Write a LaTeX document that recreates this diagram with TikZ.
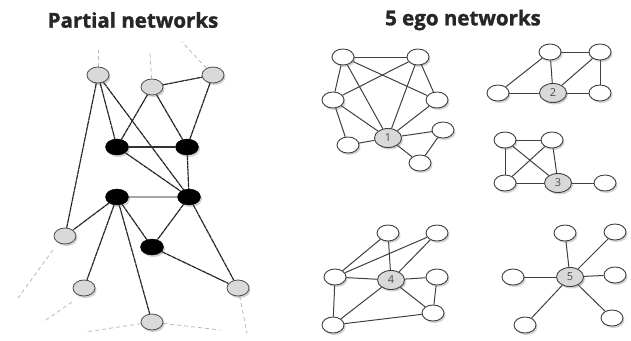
\documentclass[tikz,border=0pt]{standalone}
\usepackage{fontspec}
\setsansfont{Open Sans}
\newfontfamily\titlefont{Open Sans}[BoldFeatures={FakeBold=1.5}]
\usetikzlibrary{shadows,backgrounds,shapes.geometric}
\begin{document}
\begin{tikzpicture}[x=1pt,y=-1pt,
  shad/.style={drop shadow={shadow xshift=1.5pt,shadow yshift=-2pt,opacity=0.3,fill=black!60}},
  gnode/.style={ellipse,draw=black!70,line width=0.8pt,fill=gray!30,minimum width=22pt,minimum height=16pt,inner sep=0pt,shad},
  bnode/.style={ellipse,draw=black,fill=black,minimum width=23pt,minimum height=16pt,inner sep=0pt,shad},
  wnode/.style={ellipse,draw=black!75,line width=0.9pt,fill=white,minimum width=22pt,minimum height=16pt,inner sep=0pt,shad},
  cnode/.style={ellipse,draw=black!75,line width=0.9pt,fill=gray!30,minimum width=27pt,minimum height=19pt,inner sep=0pt,font=\sffamily\fontsize{11}{11}\selectfont,text=black!70,shad},
  pedge/.style={draw=black!85,line width=1.2pt,dash pattern=on 5pt off 0.5pt},
  oedge/.style={draw=gray!55,line width=0.8pt,dash pattern=on 4pt off 3pt},
  eedge/.style={draw=black!75,line width=1pt},
  title/.style={font=\titlefont\bfseries\fontsize{20.5}{20.5}\selectfont,text=black!85}
]
\useasboundingbox (0,0) rectangle (631,340);
% titles
\node[title] (t1) at (133,20) {Partial networks};
\node[title] (t2) at (463,20) {5 ego networks};

% ---- partial network ----
\node[gnode] (g1) at (98,75) {};
\node[gnode] (g2) at (152,87) {};
\node[gnode] (g3) at (213,75) {};
\node[bnode] (b1) at (117,147) {};
\node[bnode] (b2) at (187,147) {};
\node[bnode] (b3) at (117,197) {};
\node[bnode] (b4) at (189,197) {};
\node[bnode] (b5) at (152,247) {};
\node[gnode] (g4) at (65,236) {};
\node[gnode] (g5) at (84,288) {};
\node[gnode] (g6) at (152,322) {};
\node[gnode] (g7) at (238,288) {};
\coordinate (o1) at (98,50);
\coordinate (o2) at (150,53);
\coordinate (o3) at (182,42);
\coordinate (o4) at (53,250);
\coordinate (o4b) at (18,298);
\coordinate (o5) at (72,302);
\coordinate (o5b) at (43,322);
\coordinate (o6) at (85,332);
\coordinate (o7) at (220,330);
\coordinate (o8) at (247,333);

% ---- ego 1 ----
\node[wnode] (e1a) at (343,57) {};
\node[wnode] (e1b) at (418,57) {};
\node[wnode] (e1c) at (333,100) {};
\node[wnode] (e1d) at (437,100) {};
\node[wnode] (e1e) at (348,145) {};
\node[cnode] (e1) at (388,138) {1};
\node[wnode] (e1f) at (443,130) {};
\node[wnode] (e1g) at (420,163) {};
% ---- ego 2 ----
\node[wnode] (e2a) at (550,52) {};
\node[wnode] (e2b) at (600,52) {};
\node[wnode] (e2c) at (498,93) {};
\node[cnode] (e2) at (553,93) {2};
\node[wnode] (e2d) at (600,93) {};
% ---- ego 3 ----
\node[wnode] (e3a) at (505,140) {};
\node[wnode] (e3b) at (552,140) {};
\node[wnode] (e3c) at (505,183) {};
\node[cnode] (e3) at (558,183) {3};
\node[wnode] (e3d) at (605,183) {};
% ---- ego 4 ----
\node[wnode] (e4a) at (388,233) {};
\node[wnode] (e4b) at (437,233) {};
\node[wnode] (e4c) at (335,277) {};
\node[cnode] (e4) at (391,280) {4};
\node[wnode] (e4d) at (437,277) {};
\node[wnode] (e4e) at (333,325) {};
\node[wnode] (e4f) at (433,313) {};
% ---- ego 5 ----
\node[wnode] (e5a) at (565,233) {};
\node[wnode] (e5b) at (615,232) {};
\node[wnode] (e5c) at (513,277) {};
\node[cnode] (e5) at (570,277) {5};
\node[wnode] (e5d) at (615,275) {};
\node[wnode] (e5e) at (525,325) {};
\node[wnode] (e5f) at (612,318) {};

\begin{scope}[on background layer]
% partial edges
\draw[pedge] (g1) -- (b1);
\draw[pedge] (g1) -- (b4);
\draw[pedge] (g1) -- (g4);
\draw[pedge] (g2) -- (b1);
\draw[pedge] (g2) -- (b2);
\draw[pedge] (g2) -- (g3);
\draw[pedge] (g3) -- (b2);
\draw[draw=black!80,line width=1.2pt] (b1) -- (b2);
\draw[pedge] (b1) -- (b4);
\draw[pedge] (b2) -- (b4);
\draw[draw=gray!70,line width=1.2pt] (b3) -- (b4);
\draw[pedge] (b3) -- (g4);
\draw[pedge] (b3) -- (g5);
\draw[pedge] (b3) -- (g6);
\draw[pedge] (b3) -- (b5);
\draw[pedge] (b4) -- (b5);
\draw[pedge] (b4) -- (g7);
\draw[pedge] (b5) -- (g7);
% outside (dashed)
\draw[oedge] (g1) -- (o1);
\draw[oedge] (g2) -- (o2);
\draw[oedge] (g3) -- (o3);
\draw[oedge] (o4) -- (o4b);
\draw[oedge] (o5) -- (o5b);
\draw[oedge] (g6) -- (o6);
\draw[oedge] (g6) -- (o7);
\draw[oedge] (g7) -- (o8);
% ego 1
\draw[eedge] (e1a) -- (e1b);
\draw[eedge] (e1a) -- (e1c);
\draw[eedge] (e1a) -- (e1d);
\draw[eedge] (e1a) -- (e1);
\draw[eedge] (e1b) -- (e1c);
\draw[eedge] (e1b) -- (e1d);
\draw[eedge] (e1b) -- (e1);
\draw[eedge] (e1c) -- (e1);
\draw[eedge] (e1c) -- (e1e);
\draw[eedge] (e1d) -- (e1);
\draw[eedge] (e1e) -- (e1);
\draw[eedge] (e1) -- (e1f);
\draw[eedge] (e1) -- (e1g);
\draw[eedge] (e1f) -- (e1g);
% ego 2
\draw[eedge] (e2a) -- (e2b);
\draw[eedge] (e2a) -- (e2c);
\draw[eedge] (e2a) -- (e2);
\draw[eedge] (e2b) -- (e2);
\draw[eedge] (e2b) -- (e2d);
\draw[eedge] (e2c) -- (e2);
\draw[eedge] (e2) -- (e2d);
% ego 3
\draw[eedge] (e3a) -- (e3b);
\draw[eedge] (e3a) -- (e3c);
\draw[eedge] (e3a) -- (e3);
\draw[eedge] (e3b) -- (e3c);
\draw[eedge] (e3b) -- (e3);
\draw[eedge] (e3c) -- (e3);
\draw[eedge] (e3) -- (e3d);
% ego 4
\draw[eedge] (e4a) -- (e4c);
\draw[eedge] (e4a) -- (e4);
\draw[eedge] (e4b) -- (e4c);
\draw[eedge] (e4b) -- (e4);
\draw[eedge] (e4c) -- (e4);
\draw[eedge] (e4c) -- (e4e);
\draw[eedge] (e4) -- (e4d);
\draw[eedge] (e4) -- (e4e);
\draw[eedge] (e4) -- (e4f);
\draw[eedge] (e4d) -- (e4f);
\draw[eedge] (e4e) -- (e4f);
% ego 5
\draw[eedge] (e5) -- (e5a);
\draw[eedge] (e5) -- (e5b);
\draw[eedge] (e5) -- (e5c);
\draw[eedge] (e5) -- (e5d);
\draw[eedge] (e5) -- (e5e);
\draw[eedge] (e5) -- (e5f);
\end{scope}
\end{tikzpicture}
\end{document}
